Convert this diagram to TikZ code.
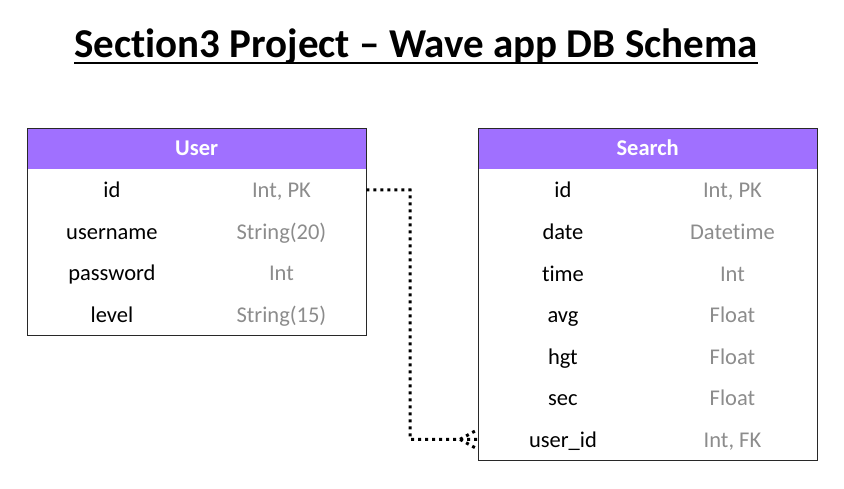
\documentclass[tikz,border=0pt]{standalone}
\usepackage{fontspec}
\setmainfont[Ligatures=NoCommon, RawFeature={-liga;-dlig}]{Carlito}
\usetikzlibrary{calc}
\definecolor{hdr}{RGB}{160,112,255}
\definecolor{typegray}{RGB}{140,140,140}
\definecolor{edge}{RGB}{40,40,40}
\tikzset{
  tablebox/.style={draw=edge, line width=1.4pt, minimum width=339pt, anchor=north west, inner sep=0pt},
  header/.style={fill=hdr, minimum width=339pt, minimum height=41pt, anchor=north west, inner sep=0pt,
    text=white, font=\fontsize{22.5}{24}\selectfont\bfseries, text height=16pt, text depth=2pt},
  rowbox/.style={minimum width=339pt, minimum height=41.5pt, anchor=north west, inner sep=0pt},
  fname/.style={font=\fontsize{22.5}{24}\selectfont, text=black, text height=17pt, text depth=1pt, inner sep=0pt},
  ftype/.style={font=\fontsize{22.5}{24}\selectfont, text=typegray, text height=17pt, text depth=1pt, inner sep=0pt},
  relation/.style={line width=3pt, dash pattern=on 3pt off 4pt},
}
\begin{document}
\begin{tikzpicture}[x=1pt,y=-1pt]
\useasboundingbox (0,0) rectangle (844,489);
% title
\node[font=\fontsize{41}{44}\selectfont\bfseries, inner sep=0pt, anchor=base] (title) at (416,58) {Section3 Project – Wave app DB Schema};
\draw[line width=2pt] ($(title.base west)+(0,5)$) -- ($(title.base east)+(0,5)$);

% User table
\node[header] (uhead) at (27,128) {User};
\foreach \n/\t [count=\i from 0] in {id/{Int, PK}, username/String(20), password/Int, level/String(15)} {
  \node[rowbox] (u\i) at (27,{169+41.5*\i}) {};
  \node[fname] (un\i) at ($(u\i.center)+(-84.75,0)$) {\n};
  \node[ftype] (ut\i) at ($(u\i.center)+(84.75,0)$) {\t};
}
\node[tablebox, minimum height=207pt] (user) at (27,128) {};

% Search table
\node[header] (shead) at (478,128) {Search};
\foreach \n/\t [count=\i from 0] in {id/{Int, PK}, date/Datetime, time/Int, avg/Float, hgt/Float, sec/Float, user\_id/{Int, FK}} {
  \node[rowbox] (s\i) at (478,{169+41.57*\i}) {};
  \node[fname] (sn\i) at ($(s\i.center)+(-84.75,0)$) {\n};
  \node[ftype] (st\i) at ($(s\i.center)+(84.75,0)$) {\t};
}
\node[tablebox, minimum height=332pt] (search) at (478,128) {};

% relation
\coordinate (bend) at (410,190);
\draw[relation] (u0.east) -- (bend) |- (s6.west);
\draw[relation] ($(s6.west)+(-18,0)$) -- ($(s6.west)+(0,-10)$);
\draw[relation] ($(s6.west)+(-18,0)$) -- ($(s6.west)+(0,10)$);
\end{tikzpicture}
\end{document}
